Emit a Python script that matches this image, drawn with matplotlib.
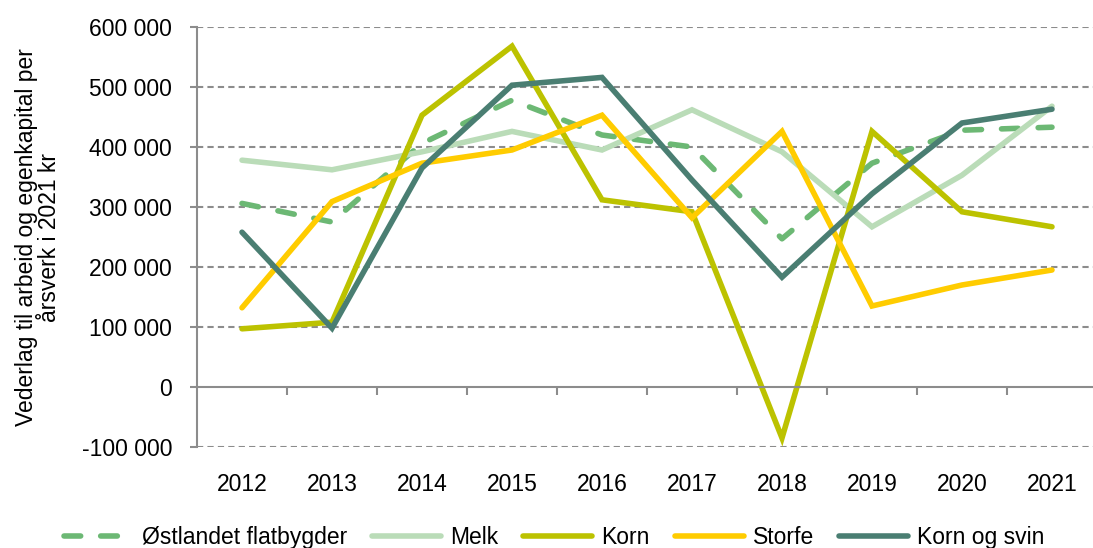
import numpy as np
import matplotlib
matplotlib.use("Agg")
import matplotlib.pyplot as plt
from matplotlib.ticker import FuncFormatter

plt.rcParams['font.family'] = ['Liberation Sans', 'DejaVu Sans']

years = ['2012', '2013', '2014', '2015', '2016', '2017', '2018', '2019', '2020', '2021']

ostlandet = [306000, 275000, 406000, 478000, 420000, 400000, 247000, 373000, 428000, 433000]
melk = [378000, 362000, 392000, 426000, 395000, 462000, 392000, 267000, 353000, 468000]
korn = [97000, 108000, 453000, 568000, 312000, 292000, -85000, 426000, 292000, 267000]
storfe = [132000, 309000, 373000, 395000, 453000, 282000, 426000, 135000, 170000, 195000]
korn_svin = [258000, 98000, 365000, 503000, 516000, 345000, 183000, 322000, 440000, 463000]

series = [
    ('Østlandet flatbygder', ostlandet, '#6cb874', (0, (3.0, 3.6))),
    ('Melk', melk, '#badcb8', '-'),
    ('Korn', korn, '#bcc200', '-'),
    ('Storfe', storfe, '#ffcc00', '-'),
    ('Korn og svin', korn_svin, '#4a7e72', '-'),
]

fig = plt.figure(figsize=(10.93, 5.48), dpi=100)
ax = fig.add_axes([197 / 1093, 1 - 447 / 548, 900 / 1093, 420 / 548])

x = np.arange(len(years))
for name, vals, col, ls in series:
    ax.plot(x, vals, color=col, lw=4, ls=ls, label=name,
            solid_capstyle='round', dash_capstyle='round', solid_joinstyle='miter')

ax.set_xlim(-0.5, len(years) - 0.5)
ax.set_ylim(-100000, 600000)
ax.set_yticks(np.arange(-100000, 600001, 100000))
ax.yaxis.set_major_formatter(FuncFormatter(lambda v, p: f'{int(v):,}'.replace(',', ' ')))

for v in np.arange(-100000, 600001, 100000):
    if v != 0:
        ax.axhline(v, color='#8c8c8c', lw=1.5, ls=(0, (3, 2)), zorder=0)

for s in ['top', 'right']:
    ax.spines[s].set_visible(False)
ax.spines['bottom'].set_position(('data', 0))
for s in ['left', 'bottom']:
    ax.spines[s].set_color('#8c8c8c')
    ax.spines[s].set_linewidth(1.5)

ax.set_xticks(x)
ax.set_xticklabels(years)
ax.set_xticks(np.arange(0.5, len(years) - 0.5, 1), minor=True)
ax.tick_params(axis='x', which='major', length=0, pad=62, labelsize=16.5)
ax.tick_params(axis='x', which='minor', length=6, width=1.5, color='#8c8c8c', direction='out')
ax.tick_params(axis='y', length=5, width=1.5, color='#8c8c8c', labelsize=16.5, pad=13)

ax.set_ylabel('Vederlag til arbeid og egenkapital per\nårsverk i 2021 kr', fontsize=16.5,
              labelpad=15, linespacing=1.0)

fig.legend(loc='lower center', bbox_to_anchor=(0.507, -0.04), ncol=5, frameon=False,
           fontsize=16.5, handlelength=3.0, columnspacing=1.1, handletextpad=0.4)

fig.savefig('out.png', dpi=100)
